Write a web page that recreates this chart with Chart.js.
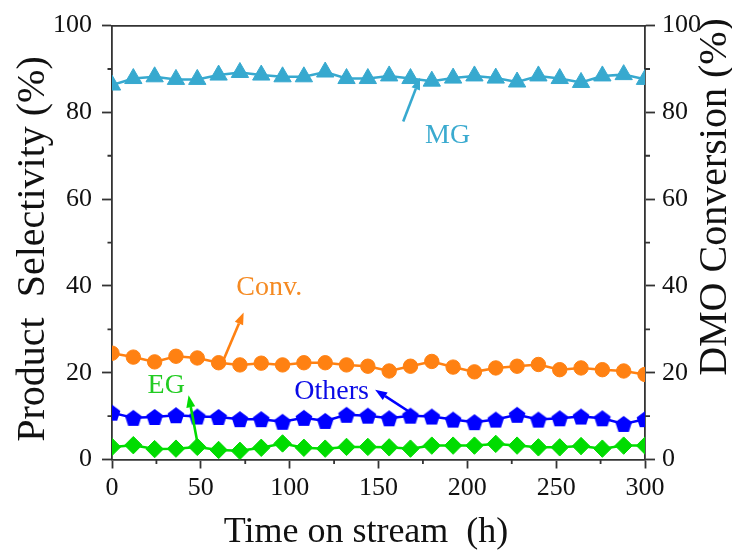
<!DOCTYPE html>
<html><head><meta charset="utf-8">
<script src="https://cdn.jsdelivr.net/npm/chart.js@4/dist/chart.umd.min.js"></script>
<style>html,body{margin:0;padding:0;background:#fff;}canvas{display:block;}</style>
</head><body>
<canvas id="c" width="732" height="551"></canvas>
<script>
// ---- data ----
const hours = [0,12,24,36,48,60,72,84,96,108,120,132,144,156,168,180,192,204,216,228,240,252,264,276,288,300];
const mgSel = [86.3,87.8,88.2,87.6,87.6,88.6,89.2,88.6,88.2,88.2,89.3,87.8,87.8,88.4,87.8,87.2,87.9,88.4,87.9,87.0,88.4,87.8,86.9,88.4,88.7,87.6];
const convDMO = [24.5,23.6,22.5,23.8,23.4,22.3,21.8,22.2,21.8,22.3,22.3,21.8,21.5,20.4,21.5,22.6,21.3,20.2,21.1,21.5,21.9,20.7,21.1,20.7,20.4,19.6];
const othersSel = [10.8,9.6,9.8,10.2,9.9,9.8,9.3,9.3,8.7,9.6,8.9,10.3,10.1,9.5,10.1,9.9,9.2,8.6,9.2,10.3,9.2,9.5,9.9,9.5,8.2,9.3];
const egSel = [2.9,3.3,2.4,2.5,2.9,2.2,2.0,2.7,3.7,2.7,2.5,2.9,2.9,2.8,2.5,3.2,3.2,3.2,3.6,3.2,2.8,2.8,3.1,2.5,3.2,3.2];
const seriesNames = ['MG','Conv.','Others','EG'];
const xTicks = [0,50,100,150,200,250,300];
const xMinorTicks = [25,75,125,175,225,275];
const yTicks = [0,20,40,60,80,100];
const yMinorTicks = [10,30,50,70,90];
const xTitle = 'Time on stream  (h)';
const yTitle = 'Product  Selectivity (%)';
const y1Title = 'DMO Conversion (%)';

// ---- styles ----
const FONT = '"Liberation Serif","Times New Roman",serif';
const AXIS = '#333333';
const C_MG = '#37A9CF', C_CONV = '#FF8112', C_OTH = '#0000FF', C_EG = '#00DC00';

function pentagon(r, color){
  const s = Math.ceil(2*r+2);
  const c = document.createElement('canvas'); c.width = s; c.height = s;
  const g = c.getContext('2d'); g.fillStyle = color; g.beginPath();
  const cy = s/2 + 0.1*r;
  for(let i=0;i<5;i++){const a=-Math.PI/2+i*2*Math.PI/5; const px=s/2+r*Math.cos(a), py=cy+r*Math.sin(a); i?g.lineTo(px,py):g.moveTo(px,py);}
  g.closePath(); g.fill(); return c;
}
const pts = arr => hours.map((h,i)=>({x:h,y:arr[i]}));

const annotations = [
  {text:'MG', color:'#3AAACF', tx:188.9, ty:73.0, ax:[163.9,77.9], ah:[173.4,88.0], axis:'y'},
  {text:'Conv.', color:'#F58A22', tx:88.5, ty:37.8, ax:[62.8,23.0], ah:[74.1,33.9], axis:'y1'},
  {text:'Others', color:'#0A0AE6', tx:123.6, ty:13.9, ax:[168.8,10.6], ah:[148.1,16.1], axis:'y'},
  {text:'EG', color:'#22CC22', tx:30.5, ty:15.3, ax:[49.1,1.7], ah:[43.1,14.8], axis:'y'}
];
const annColors = {MG:C_MG,'Conv.':C_CONV,Others:C_OTH,EG:C_EG};

function arrow(ctx,x1,y1,x2,y2,color,lw,hl,hw){
  const a=Math.atan2(y2-y1,x2-x1);
  const bx=x2-hl*Math.cos(a), by=y2-hl*Math.sin(a);
  ctx.strokeStyle=color; ctx.fillStyle=color; ctx.lineWidth=lw;
  ctx.beginPath(); ctx.moveTo(x1,y1); ctx.lineTo(bx,by); ctx.stroke();
  ctx.beginPath(); ctx.moveTo(x2,y2);
  ctx.lineTo(bx+hw/2*Math.sin(a), by-hw/2*Math.cos(a));
  ctx.lineTo(bx-hw/2*Math.sin(a), by+hw/2*Math.cos(a));
  ctx.closePath(); ctx.fill();
}

const extras = {
  id:'extras',
  afterDraw(chart){
    const ctx=chart.ctx, a=chart.chartArea, sx=chart.scales.x, sy=chart.scales.y, sy1=chart.scales.y1;
    ctx.save();
    // minor ticks
    ctx.strokeStyle=AXIS; ctx.lineWidth=1.8;
    ctx.beginPath();
    yMinorTicks.forEach(v=>{const p=sy.getPixelForValue(v); ctx.moveTo(a.left-4.5,p); ctx.lineTo(a.left,p);});
    yMinorTicks.forEach(v=>{const p=sy1.getPixelForValue(v); ctx.moveTo(a.right,p); ctx.lineTo(a.right+5,p);});
    xMinorTicks.forEach(v=>{const p=sx.getPixelForValue(v); ctx.moveTo(p,a.bottom); ctx.lineTo(p,a.bottom+4.5);});
    ctx.stroke();
    // annotations
    annotations.forEach(n=>{
      const ys = chart.scales[n.axis];
      arrow(ctx, sx.getPixelForValue(n.ax[0]), ys.getPixelForValue(n.ax[1]), sx.getPixelForValue(n.ah[0]), ys.getPixelForValue(n.ah[1]), annColors[n.text], 2.6, 12, 9);
      ctx.fillStyle=n.color; ctx.font='28px '+FONT; ctx.textAlign='center'; ctx.textBaseline='alphabetic';
      ctx.fillText(n.text, sx.getPixelForValue(n.tx), ys.getPixelForValue(n.ty));
    });
    // axis titles
    ctx.fillStyle='#111'; ctx.textBaseline='alphabetic'; ctx.textAlign='center';
    ctx.font='36px '+FONT;
    ctx.fillText(xTitle, 366, 542);
    ctx.font='40px '+FONT;
    ctx.save(); ctx.translate(44,249); ctx.rotate(-Math.PI/2); ctx.fillText(yTitle,0,0); ctx.restore();
    ctx.save(); ctx.translate(726,197); ctx.rotate(-Math.PI/2); ctx.fillText(y1Title,0,0); ctx.restore();
    ctx.restore();
  }
};

const tickFont = {family:FONT, size:26};
const lineDs = (label,data,color,style,r,axis)=>({
  label, data, yAxisID:axis, borderColor:color, backgroundColor:color, borderWidth:2.5,
  pointStyle:style, pointRadius:r, pointHoverRadius:r, pointBorderWidth:1, pointBorderColor:color, pointBackgroundColor:color, tension:0
});

new Chart(document.getElementById('c'), {
  type:'line',
  data:{datasets:[
    lineDs(seriesNames[0], pts(mgSel), C_MG, 'triangle', 10, 'y'),
    lineDs(seriesNames[1], pts(convDMO), C_CONV, 'circle', 7.2, 'y1'),
    lineDs(seriesNames[2], pts(othersSel), C_OTH, pentagon(8.8, C_OTH), 8, 'y'),
    lineDs(seriesNames[3], pts(egSel), C_EG, 'rectRot', 8.7, 'y')
  ]},
  options:{
    responsive:false, devicePixelRatio:1, animation:false,
    layout:{padding:0},
    plugins:{legend:{display:false}, tooltip:{enabled:false}},
    scales:{
      x:{type:'linear', position:'bottom', min:0, max:300,
        afterBuildTicks:s=>{s.ticks=xTicks.map(v=>({value:v}));},
        ticks:{font:tickFont, color:'#111', padding:4, maxRotation:0, autoSkip:false},
        grid:{drawOnChartArea:false, drawTicks:true, tickLength:9, tickWidth:1.8, tickColor:AXIS},
        border:{display:true, color:AXIS, width:1.8},
        afterFit:s=>{s.height=91.5;}},
      xTop:{type:'linear', position:'top', min:0, max:300,
        ticks:{display:false}, grid:{display:false},
        border:{display:true, color:AXIS, width:1.8},
        afterFit:s=>{s.height=24;}},
      y:{position:'left', min:0, max:100,
        afterBuildTicks:s=>{s.ticks=yTicks.map(v=>({value:v}));},
        ticks:{font:tickFont, color:'#111', padding:10},
        grid:{drawOnChartArea:false, tickLength:10, tickWidth:1.8, tickColor:AXIS},
        border:{display:true, color:AXIS, width:1.8},
        afterFit:s=>{s.width=112;}},
      y1:{position:'right', min:0, max:100,
        afterBuildTicks:s=>{s.ticks=yTicks.map(v=>({value:v}));},
        ticks:{font:tickFont, color:'#111', padding:7},
        grid:{drawOnChartArea:false, tickLength:10, tickWidth:1.8, tickColor:AXIS},
        border:{display:true, color:AXIS, width:1.8},
        afterFit:s=>{s.width=87;}}
    }
  },
  plugins:[extras]
});
</script>
</body></html>
